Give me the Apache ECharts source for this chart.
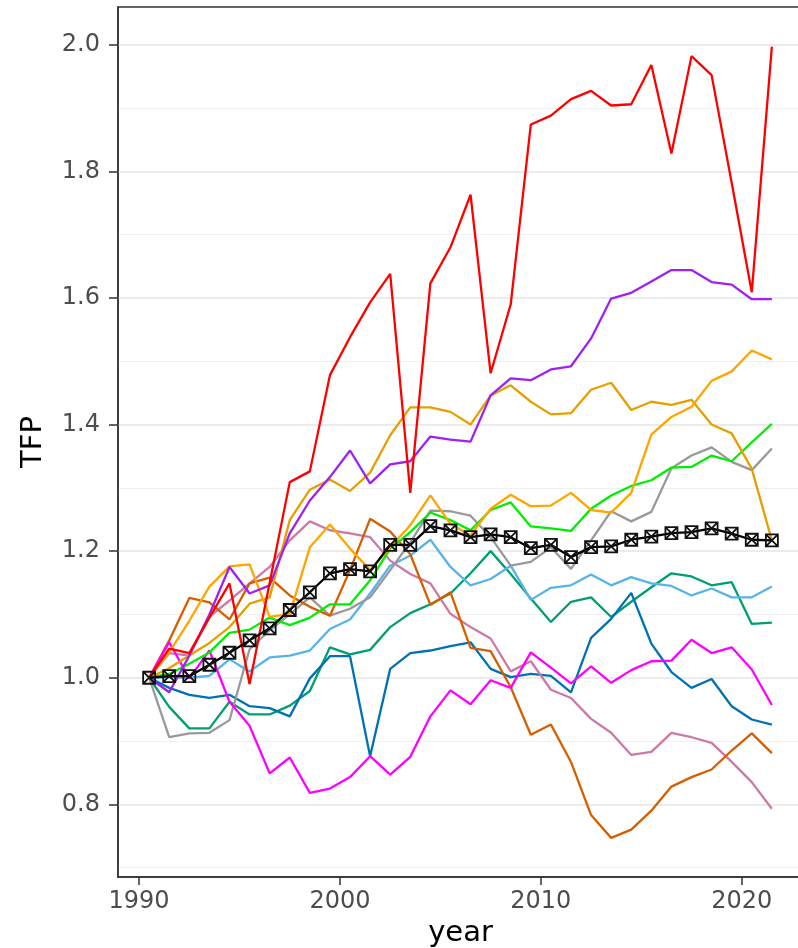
<!DOCTYPE html>
<html>
<head>
<meta charset="utf-8">
<script src="https://cdn.jsdelivr.net/npm/echarts@6/dist/echarts.min.js"></script>
<style>
  html, body { margin: 0; padding: 0; background: #fff; }
  #chart { width: 798px; height: 948px; }
</style>
</head>
<body>
<div id="chart"></div>
<script>
// years; each value sits at mid-year (year + 0.5)
const years = [1990, 1991, 1992, 1993, 1994, 1995, 1996, 1997, 1998, 1999,
  2000, 2001, 2002, 2003, 2004, 2005, 2006, 2007, 2008, 2009,
  2010, 2011, 2012, 2013, 2014, 2015, 2016, 2017, 2018, 2019, 2020, 2021]

const redVals = [1.0, 1.046, 1.039, 1.095, 1.149, 0.990, 1.150, 1.309, 1.326, 1.478, 1.538, 1.593, 1.638, 1.292, 1.623, 1.680,
  1.763, 1.481, 1.590, 1.874, 1.888, 1.914, 1.927, 1.904, 1.906, 1.968, 1.828, 1.982, 1.952, 1.782, 1.609, 1.997]
const purpleVals = [1.0, 0.977, 1.035, 1.10, 1.175, 1.133, 1.146, 1.228, 1.280, 1.317, 1.359, 1.307, 1.337, 1.342, 1.381, 1.376,
  1.373, 1.446, 1.473, 1.470, 1.487, 1.492, 1.536, 1.599, 1.608, 1.626, 1.644, 1.644, 1.625, 1.621, 1.598, 1.598]
const orangeVals = [1.0, 1.04, 1.09, 1.144, 1.176, 1.179, 1.096, 1.101, 1.206, 1.242, 1.204, 1.170, 1.206, 1.241, 1.288, 1.243,
  1.225, 1.267, 1.289, 1.271, 1.272, 1.292, 1.265, 1.261, 1.292, 1.384, 1.412, 1.428, 1.469, 1.484, 1.517, 1.503]
const goldVals = [1.0, 1.015, 1.035, 1.055, 1.08, 1.117, 1.127, 1.249, 1.297, 1.313, 1.295, 1.324, 1.383, 1.427, 1.427, 1.420,
  1.400, 1.446, 1.462, 1.436, 1.416, 1.418, 1.455, 1.466, 1.423, 1.436, 1.431, 1.439, 1.400, 1.386, 1.330, 1.217]
const limeVals = [1.0, 1.006, 1.022, 1.040, 1.071, 1.076, 1.095, 1.083, 1.095, 1.116, 1.116, 1.154, 1.204, 1.230, 1.261, 1.249,
  1.233, 1.265, 1.277, 1.239, 1.236, 1.232, 1.267, 1.288, 1.303, 1.312, 1.332, 1.333, 1.351, 1.342, 1.372, 1.401]
const greyVals = [1.0, 0.906, 0.912, 0.913, 0.933, 1.045, 1.075, 1.10, 1.127, 1.098, 1.109, 1.127, 1.170, 1.214, 1.264, 1.263,
  1.256, 1.222, 1.177, 1.183, 1.206, 1.172, 1.217, 1.263, 1.247, 1.262, 1.331, 1.351, 1.364, 1.341, 1.328, 1.362]
const skyVals = [1.0, 1.001, 1.0, 1.003, 1.029, 1.010, 1.032, 1.035, 1.043, 1.077, 1.092, 1.133, 1.177, 1.193, 1.218, 1.175,
  1.146, 1.156, 1.177, 1.123, 1.142, 1.146, 1.163, 1.146, 1.159, 1.149, 1.145, 1.130, 1.141, 1.127, 1.127, 1.144]
const tealVals = [1.0, 0.954, 0.920, 0.920, 0.962, 0.942, 0.942, 0.956, 0.979, 1.048, 1.037, 1.044, 1.080, 1.102, 1.116, 1.133,
  1.165, 1.200, 1.164, 1.125, 1.088, 1.120, 1.127, 1.096, 1.120, 1.143, 1.165, 1.160, 1.146, 1.151, 1.085, 1.087]
const blueVals = [1.0, 0.984, 0.973, 0.968, 0.973, 0.955, 0.952, 0.939, 0.999, 1.034, 1.034, 0.876, 1.014, 1.039, 1.043, 1.050,
  1.056, 1.014, 1.001, 1.006, 1.003, 0.977, 1.063, 1.093, 1.134, 1.054, 1.009, 0.984, 0.998, 0.955, 0.934, 0.926]
const vermilionVals = [1.0, 1.059, 1.126, 1.119, 1.092, 1.149, 1.158, 1.130, 1.112, 1.098, 1.170, 1.251, 1.231, 1.195, 1.115, 1.135,
  1.047, 1.042, 0.985, 0.910, 0.926, 0.867, 0.783, 0.747, 0.760, 0.790, 0.828, 0.843, 0.855, 0.885, 0.912, 0.881]
const pinkVals = [1.0, 1.039, 1.035, 1.096, 1.122, 1.149, 1.175, 1.217, 1.247, 1.233, 1.228, 1.222, 1.185, 1.164, 1.149, 1.101,
  1.080, 1.062, 1.010, 1.026, 0.981, 0.968, 0.935, 0.913, 0.878, 0.883, 0.913, 0.906, 0.897, 0.867, 0.835, 0.793]
const magentaVals = [1.0, 1.056, 0.999, 1.043, 0.962, 0.924, 0.849, 0.874, 0.818, 0.825, 0.843, 0.876, 0.847, 0.875, 0.939, 0.980,
  0.958, 0.996, 0.984, 1.040, 1.016, 0.991, 1.018, 0.992, 1.012, 1.026, 1.027, 1.060, 1.039, 1.048, 1.013, 0.957]
const meanVals = [1.0, 1.0025, 1.0025, 1.0205, 1.0395, 1.059, 1.078, 1.107, 1.135, 1.165, 1.1716, 1.168, 1.21, 1.21, 1.2395, 1.2327,
  1.222, 1.2264, 1.222, 1.2047, 1.21, 1.1905, 1.2063, 1.2074, 1.218, 1.2228, 1.2284, 1.23, 1.236, 1.2275, 1.218, 1.2169]

const xTicks = [1990, 2000, 2010, 2020]
const yTicks = [0.8, 1.0, 1.2, 1.4, 1.6, 1.8, 2.0]
const yMinor = [0.7, 0.9, 1.1, 1.3, 1.5, 1.7, 1.9]

const lines = [
  { vals: tealVals, color: '#009E73' },
  { vals: blueVals, color: '#0072B2' },
  { vals: skyVals, color: '#56B4E9' },
  { vals: greyVals, color: '#999999' },
  { vals: pinkVals, color: '#CC79A7' },
  { vals: vermilionVals, color: '#D55E00' },
  { vals: magentaVals, color: '#FF00FF' },
  { vals: limeVals, color: '#00EE00' },
  { vals: goldVals, color: '#E69F00' },
  { vals: orangeVals, color: '#FFA500' },
  { vals: purpleVals, color: '#A020F0' },
  { vals: redVals, color: '#FF0000' }
]

const toData = vals => vals.map((v, i) => [years[i] + 0.5, v])

const chart = echarts.init(document.getElementById('chart'))
const font = 'DejaVu Sans'

const series = lines.map(l => ({
  type: 'line',
  data: toData(l.vals),
  symbol: 'none',
  lineStyle: { color: l.color, width: 2.3 },
  itemStyle: { color: l.color },
  z: 2
}))
// mean line with square-cross markers
series.push({
  type: 'line',
  data: toData(meanVals),
  symbol: 'path://M0,0H10V10H0Z M0,0L10,10 M10,0L0,10',
  symbolSize: 12,
  lineStyle: { color: '#000', width: 2.3 },
  itemStyle: { color: 'rgba(0,0,0,0)', borderColor: '#111', borderWidth: 1.8 },
  z: 3
})

chart.setOption({
  animation: false,
  backgroundColor: '#fff',
  grid: {
    left: 118, top: 7, right: -5, bottom: 71,
    outerBoundsMode: 'none',
    containLabel: false,
    show: true, borderColor: '#333', borderWidth: 1.5, backgroundColor: '#fff'
  },
  xAxis: {
    type: 'value',
    min: 1988.95,
    max: 2023.05,
    name: 'year',
    nameLocation: 'middle',
    nameGap: 37,
    nameTextStyle: { fontFamily: font, fontSize: 29, color: '#000' },
    axisLine: { show: true, lineStyle: { color: '#333', width: 1.5 } },
    axisTick: { show: true, length: 8, customValues: xTicks, lineStyle: { color: '#333', width: 1.5 } },
    axisLabel: {
      customValues: xTicks, margin: 13,
      fontFamily: font, fontSize: 24, color: '#4D4D4D',
      formatter: v => String(v)
    },
    splitLine: { show: false }
  },
  yAxis: [
    {
      type: 'value',
      min: 0.6852,
      max: 2.0596,
      name: 'TFP',
      nameLocation: 'middle',
      nameGap: 70,
      nameRotate: 90,
      nameTextStyle: { fontFamily: font, fontSize: 29, color: '#000' },
      axisLine: { show: true, lineStyle: { color: '#333', width: 1.5 } },
      axisTick: { show: true, length: 9, customValues: yTicks, lineStyle: { color: '#333', width: 1.5 } },
      axisLabel: {
        customValues: yTicks, margin: 18,
        fontFamily: font, fontSize: 24, color: '#4D4D4D',
        formatter: v => v.toFixed(1)
      },
      splitLine: { show: true, lineStyle: { color: '#EBEBEB', width: 2 } }
    },
    {
      type: 'value',
      min: 0.6852,
      max: 2.0596,
      position: 'left',
      axisLine: { show: false },
      axisTick: { show: false, customValues: yMinor },
      axisLabel: { show: false },
      splitLine: { show: true, lineStyle: { color: '#F0F0F0', width: 1 } }
    }
  ],
  series: series
})
</script>
</body>
</html>
